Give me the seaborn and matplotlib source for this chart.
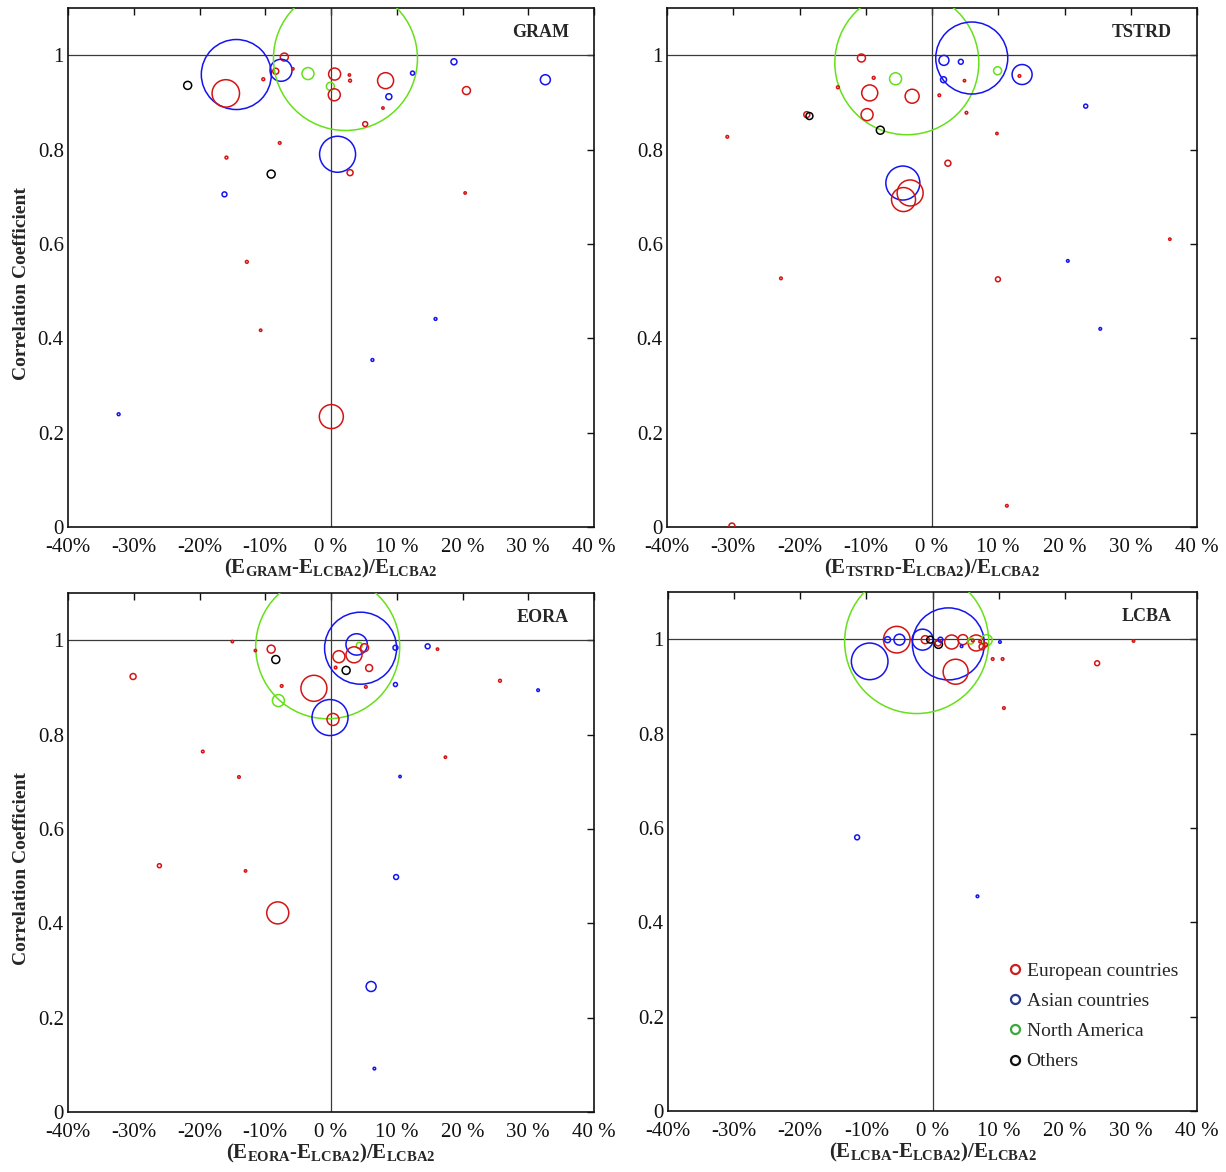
import numpy as np
import pandas as pd
import matplotlib
matplotlib.use('Agg')
import matplotlib.pyplot as plt
from matplotlib.lines import Line2D
import seaborn as sns

# ------------------------------------------------------------------
# values
# x = relative difference to LCBA2 (%), y = correlation coefficient,
# reg = country group, size = bubble size value (area units)
gram_x = [-14.4, -16.0, -21.8, -10.3, -7.1, -7.6, -8.4, -5.8, 2.2, -3.5, -0.1, 0.55,
          0.5, 2.8, 2.9, 8.3, 12.4, 18.7, 8.8, 7.9, 20.6, 32.6, 5.2, -7.8, -15.9,
          -9.1, -16.2, 1.0, 2.9, 20.4, -12.8, -10.7, -32.3, 6.3, 15.9, 0.05]
gram_y = [0.959, 0.919, 0.936, 0.949, 0.996, 0.968, 0.966, 0.971, 0.993, 0.961, 0.934, 0.960,
          0.916, 0.958, 0.946, 0.946, 0.962, 0.986, 0.912, 0.888, 0.925, 0.948, 0.854, 0.814, 0.783,
          0.748, 0.705, 0.790, 0.751, 0.708, 0.562, 0.417, 0.239, 0.354, 0.441, 0.234]
gram_reg = ['AS', 'EU', 'OT', 'EU', 'EU', 'AS', 'EU', 'EU', 'AM', 'AM', 'AM', 'EU',
            'EU', 'EU', 'EU', 'EU', 'AS', 'AS', 'AS', 'EU', 'EU', 'AS', 'EU', 'EU', 'EU',
            'OT', 'AS', 'AS', 'EU', 'EU', 'EU', 'EU', 'AS', 'AS', 'AS', 'EU']
gram_size = [1225, 188, 16, 2, 16, 121, 9, 1.4, 5184, 36, 16, 36,
             36, 1.4, 2, 64, 4, 9, 9, 1.4, 16, 25, 6, 1.7, 2,
             16, 6, 324, 9, 1.4, 2, 1.4, 2, 2, 2, 144]

tstrd_x = [-3.8, 6.0, -10.65, -8.8, -14.2, -5.5, -9.4, -3.0, -9.8, -18.9, -18.5, -7.8,
           -30.9, 1.8, 4.35, 1.74, 1.1, 4.9, 5.2, 9.9, 13.6, 13.2, 23.2, 9.8, 2.4,
           -4.4, -3.3, -4.3, -22.8, -30.2, 9.95, 20.5, 25.4, 35.9, 11.3]
tstrd_y = [0.984, 0.994, 0.994, 0.952, 0.932, 0.950, 0.920, 0.913, 0.874, 0.874, 0.871, 0.841,
           0.827, 0.989, 0.986, 0.948, 0.915, 0.946, 0.878, 0.967, 0.959, 0.956, 0.892, 0.834, 0.771,
           0.729, 0.708, 0.694, 0.527, 0.002, 0.525, 0.564, 0.420, 0.610, 0.045]
tstrd_reg = ['AM', 'AS', 'EU', 'EU', 'EU', 'AM', 'EU', 'EU', 'EU', 'EU', 'OT', 'OT',
             'EU', 'AS', 'AS', 'AS', 'EU', 'EU', 'EU', 'AM', 'AS', 'EU', 'AS', 'EU', 'EU',
             'AS', 'EU', 'EU', 'EU', 'EU', 'EU', 'AS', 'AS', 'EU', 'EU']
tstrd_size = [5184, 1296, 16, 2, 2, 36, 64, 49, 36, 9, 12, 16,
              1.7, 25, 6, 9, 1.7, 1.4, 1.7, 16, 100, 1.7, 4, 1.4, 9,
              289, 169, 144, 1.7, 9, 6, 1.7, 1.7, 1.4, 1.7]

eora_x = [-0.5, 4.5, 3.9, 4.3, 5.1, 3.5, 1.2, 2.3, 5.8, 0.7, 5.3, -2.6, -0.15,
          0.3, -8.0, -9.1, -8.4, -11.5, -15.0, -7.5, -30.1, -19.5, 9.8, 14.7, 16.2,
          9.8, 25.7, 31.5, 17.4, -14.0, 10.5, -26.1, -13.0, -8.1, 9.9, 6.1, 6.6]
eora_y = [0.986, 0.983, 0.991, 0.989, 0.984, 0.969, 0.965, 0.936, 0.941, 0.942, 0.901, 0.898, 0.836,
          0.832, 0.872, 0.981, 0.959, 0.978, 0.997, 0.903, 0.923, 0.764, 0.984, 0.987, 0.981,
          0.906, 0.914, 0.894, 0.752, 0.710, 0.711, 0.522, 0.511, 0.422, 0.498, 0.266, 0.092]
eora_reg = ['AM', 'AS', 'AS', 'AM', 'EU', 'EU', 'EU', 'OT', 'EU', 'EU', 'EU', 'EU', 'AS',
            'EU', 'AM', 'EU', 'OT', 'EU', 'EU', 'EU', 'EU', 'EU', 'AS', 'AS', 'EU',
            'AS', 'EU', 'AS', 'EU', 'EU', 'AS', 'EU', 'EU', 'EU', 'AS', 'AS', 'AS']
eora_size = [5184, 1296, 114, 9, 16, 64, 36, 16, 12, 1.7, 1.7, 169, 324,
             36, 36, 16, 16, 1.4, 1.4, 1.7, 9, 1.7, 6, 6, 1.4,
             4, 2, 1.7, 1.4, 1.7, 1.4, 4, 1.4, 121, 6, 25, 1.7]

lcba_x = [-2.4, 2.4, -9.5, -5.4, -5.0, -6.8, -1.5, -1.1, -0.35, 0.9, 0.85, 1.2,
          2.9, 4.6, 4.4, 6.6, 8.2, 5.8, 7.5, 8.0, 6.1, 7.2, 10.2, 9.1, 10.6,
          3.5, 24.9, 30.4, 10.8, -11.4, 6.8]
lcba_y = [0.995, 0.990, 0.953, 0.999, 0.999, 0.999, 0.999, 0.999, 0.999, 0.989, 0.992, 0.999,
          0.994, 0.999, 0.985, 0.992, 0.998, 0.996, 0.984, 0.988, 0.997, 0.995, 0.994, 0.958, 0.958,
          0.931, 0.949, 0.996, 0.854, 0.580, 0.455]
lcba_reg = ['AM', 'AS', 'AS', 'EU', 'AS', 'AS', 'AS', 'EU', 'OT', 'OT', 'EU', 'AS',
            'EU', 'EU', 'AS', 'EU', 'AM', 'AM', 'EU', 'EU', 'EU', 'EU', 'AS', 'EU', 'EU',
            'EU', 'EU', 'EU', 'EU', 'AS', 'AS']
lcba_size = [5184, 1296, 335, 177, 30, 9, 110, 16, 12, 16, 9, 6,
             49, 25, 1.7, 64, 30, 9, 9, 4, 1.7, 1.7, 1.7, 1.7, 1.7,
             156, 6, 1.4, 1.7, 6, 1.7]

groups = ['EU', 'AS', 'AM', 'OT']
group_names = ['European countries', 'Asian countries', 'North America', 'Others']
x_ticks = [-40, -30, -20, -10, 0, 10, 20, 30, 40]
x_ticklabels = ['-40%', '-30%', '-20%', '-10%', '0 %', '10 %', '20 %', '30 %', '40 %']
y_ticks = [0, 0.2, 0.4, 0.6, 0.8, 1.0]
y_ticklabels = ['0', '0.2', '0.4', '0.6', '0.8', '1']

# ------------------------------------------------------------------
sns.set_style('white')
plt.rcParams['font.family'] = ['Liberation Serif', 'DejaVu Serif']
plt.rcParams['mathtext.fontset'] = 'custom'
plt.rcParams['mathtext.rm'] = 'Liberation Serif'
plt.rcParams['mathtext.bf'] = 'Liberation Serif:bold'
plt.rcParams['mathtext.it'] = 'Liberation Serif:italic'

palette = {'EU': '#d41414', 'AS': '#1414f0', 'AM': '#66e01a', 'OT': '#000000'}
legend_cols = ['#cc2020', '#2a3a8c', '#3aa83a', '#111111']

fig = plt.figure(figsize=(12.26, 11.72), dpi=100)
W, H = 1226, 1172
rects = {
    'GRAM': [68 / W, (H - 527) / H, 526 / W, 519 / H],
    'TSTRD': [667 / W, (H - 527) / H, 530 / W, 519 / H],
    'EORA': [68 / W, (H - 1112) / H, 526 / W, 519 / H],
    'LCBA': [668 / W, (H - 1111) / H, 529 / W, 519 / H],
}
panels = [
    ('GRAM', gram_x, gram_y, gram_reg, gram_size, True),
    ('TSTRD', tstrd_x, tstrd_y, tstrd_reg, tstrd_size, False),
    ('EORA', eora_x, eora_y, eora_reg, eora_size, True),
    ('LCBA', lcba_x, lcba_y, lcba_reg, lcba_size, False),
]

for name, xs, ys, regs, sizes, left in panels:
    ax = fig.add_axes(rects[name])
    df = pd.DataFrame({'x': xs, 'y': ys, 'reg': regs, 'size': sizes})
    # reference lines
    ax.axhline(1.0, color='#3a3a3a', lw=0.9, zorder=1)
    ax.axvline(0.0, color='#3a3a3a', lw=0.9, zorder=1)
    sns.scatterplot(data=df, x='x', y='y', hue='reg', size='size', palette=palette,
                    sizes=(0, 2.0736 * 6000), size_norm=(0, 6000), linewidth=1.1,
                    legend=False, ax=ax, zorder=3)
    # open circles
    coll = ax.collections[-1]
    fc = coll.get_facecolors()
    coll.set_edgecolors(fc)
    coll.set_facecolors('none')

    ax.set_xlim(-40, 40)
    ax.set_ylim(0, 1.1)
    ax.set_xticks(x_ticks)
    ax.set_xticklabels(x_ticklabels)
    ax.set_yticks(y_ticks)
    ax.set_yticklabels(y_ticklabels)
    ax.tick_params(direction='in', length=5, width=1, top=True, right=True,
                   labelsize=15, pad=3, colors='#111111')
    ax.tick_params(axis='x', pad=8)
    for sp in ax.spines.values():
        sp.set_linewidth(1.2)
        sp.set_color('#111111')
    ax.set_xlabel(r'(E$_{\mathbf{' + name + r'}}$-E$_{\mathbf{LCBA2}}$)/E$_{\mathbf{LCBA2}}$',
                  fontsize=15, fontweight='bold', labelpad=0)
    if left:
        ax.set_ylabel('Correlation Coefficient', fontsize=14, fontweight='bold')
        ax.yaxis.set_label_coords(-0.072, 0.47)
    else:
        ax.set_ylabel('')
    ax.text(0.952, 0.952, name, transform=ax.transAxes, ha='right', va='center',
            fontsize=13, fontweight='bold')

    if name == 'LCBA':
        handles = [Line2D([], [], marker='o', ls='none', mfc='none', mec=c, ms=6.5, mew=1.6)
                   for c in legend_cols]
        ax.legend(handles, group_names, loc='lower right', bbox_to_anchor=(0.99, 0.052),
                  frameon=False, fontsize=14, handlelength=0.6, handletextpad=0.3,
                  labelspacing=0.65, borderpad=0.2)

fig.savefig('out.png', dpi=100)
